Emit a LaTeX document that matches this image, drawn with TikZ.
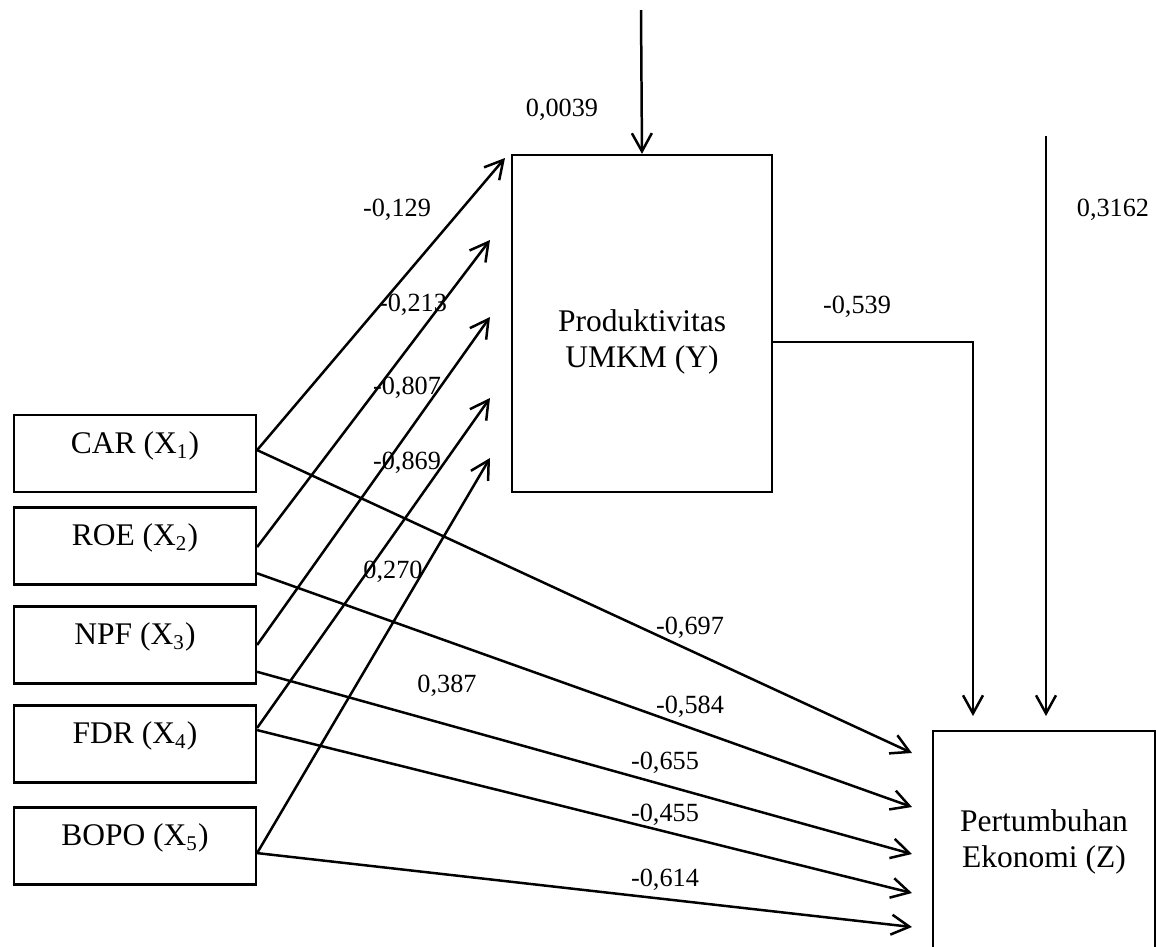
\documentclass[tikz,border=0pt]{standalone}
\usepackage{fontspec}
\setmainfont{Liberation Serif}
\usetikzlibrary{arrows.meta}

\tikzset{
  varbox/.style={draw, line width=0.85pt, inner sep=0pt},
  boxtext/.style={font=\fontsize{12}{13.5}\selectfont, inner sep=0pt, align=center},
  link/.style={line width=0.95pt, -{Straight Barb[length=6.9pt,width=7.6pt]}},
  coef/.style={font=\fontsize{10}{12}\selectfont, inner sep=0pt},
}

\begin{document}
\begin{tikzpicture}[x=0.381pt, y=-0.381pt]
  \useasboundingbox (0,0) rectangle (1156,946);

  % Exogenous variables
  \foreach \n/\yy/\lab/\k in {car/453.5/CAR/1, roe/546/ROE/2, npf/645/NPF/3,
                              fdr/744/FDR/4, bopo/846/BOPO/5} {
    \node[varbox, minimum width=92.2pt, minimum height=29.3pt,
      label={[boxtext, yshift=2.9pt]center:\lab{} (X\textsubscript{\k})}] (\n) at (135,\yy) {};
  }

  % Intervening and endogenous variables
  \node[varbox, minimum width=99.1pt, minimum height=128.4pt,
    label={[boxtext, yshift=-7pt]center:Produktivitas\\UMKM (Y)}] (umkm) at (642,323.5) {};
  \node[varbox, minimum width=84.6pt, minimum height=83.4pt,
    label={[boxtext, yshift=-0.6pt]center:Pertumbuhan\\Ekonomi (Z)}] (eko) at (1044,840.5) {};

  % Paths into Y
  \foreach \n/\dy/\ex/\ey in {car/1.3/505/158, roe/-0.4/490/240, npf/0/490/317,
                              fdr/6.1/490/398, bopo/-2.7/490/458} {
    \coordinate (\n-y) at (\ex,\ey);
    \draw[link] ([yshift=\dy pt]\n.east) -- (\n-y);
  }

  % Paths into Z
  \foreach \n/\dy/\ey in {car/1.3/753, roe/-10.4/807, npf/-10.2/854,
                          fdr/5.3/893, bopo/-2.7/927} {
    \coordinate (\n-z) at (912,\ey);
    \draw[link] ([yshift=\dy pt]\n.east) -- (\n-z);
  }

  % Error terms and Y -> Z
  \coordinate (ytop) at (641,10);
  \draw[link] (ytop) -- (umkm.north);
  \coordinate (zin1) at (973,716);
  \draw[link] ([yshift=-7pt]umkm.east) -| (zin1);
  \coordinate (ztop) at (1046,136);
  \coordinate (zin2) at (1046,716);
  \draw[link] (ztop) -- (zin2);

  % Coefficients
  \node[coef] (e1) at (562,110) {0,0039};
  \node[coef] (e2) at (1113,210) {0,3162};
  \node[coef] (p1) at (397,210) {-0,129};
  \node[coef] (p2) at (413,305) {-0,213};
  \node[coef] (p3) at (407,388) {-0,807};
  \node[coef] (p4) at (407,463) {-0,869};
  \node[coef] (p5) at (393,572) {0,270};
  \node[coef] (p6) at (857,307) {-0,539};
  \node[coef] (p7) at (690,628) {-0,697};
  \node[coef] (p8) at (447,686) {0,387};
  \node[coef] (p9) at (690,707) {-0,584};
  \node[coef] (p10) at (665,763) {-0,655};
  \node[coef] (p11) at (665,815) {-0,455};
  \node[coef] (p12) at (665,880) {-0,614};
\end{tikzpicture}
\end{document}
